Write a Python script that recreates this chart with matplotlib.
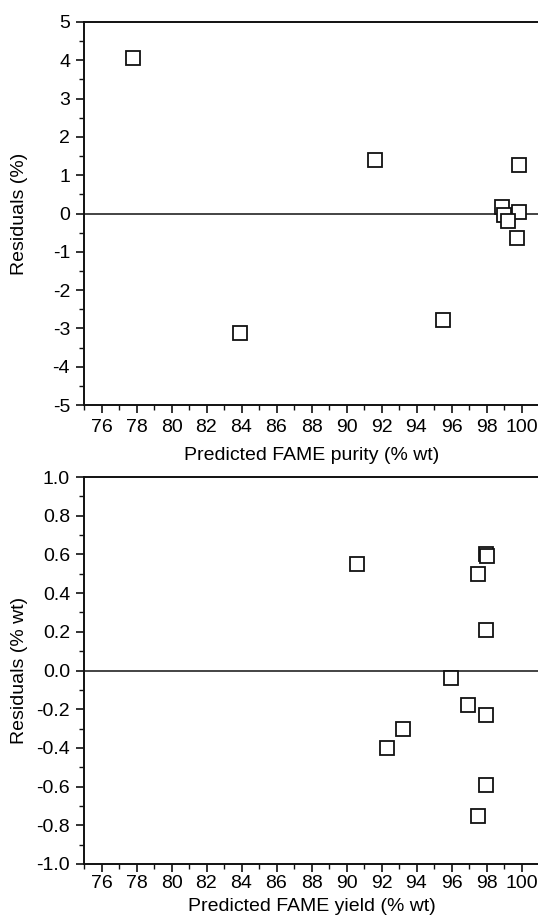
import matplotlib
matplotlib.use("Agg")
import matplotlib.pyplot as plt
from matplotlib.ticker import MultipleLocator, FormatStrFormatter

# Top panel: predicted FAME purity vs residuals
purity_pred = [77.8, 83.9, 91.6, 95.5, 99.85, 98.9, 99.85, 99.0, 99.2, 99.75]
purity_resid = [4.07, -3.11, 1.39, -2.77, 1.27, 0.18, 0.03, -0.05, -0.2, -0.64]

# Bottom panel: predicted FAME yield vs residuals
yield_pred = [90.6, 92.3, 93.2, 97.95, 98.05, 97.5, 97.95, 95.95, 96.95, 97.95, 97.95, 97.5]
yield_resid = [0.55, -0.40, -0.30, 0.60, 0.59, 0.50, 0.21, -0.04, -0.18, -0.23, -0.59, -0.75]

x_ticks = list(range(76, 101, 2))

plt.rcParams['font.family'] = ['Liberation Sans', 'DejaVu Sans']
plt.rcParams['axes.unicode_minus'] = False

W, H = 538, 919
fig = plt.figure(figsize=(W / 100, H / 100), dpi=100)

ax1 = fig.add_axes([84 / W, 1 - 405 / H, 455 / W, (405 - 22) / H])
ax2 = fig.add_axes([84 / W, 1 - 864 / H, 455 / W, (864 - 477) / H])


def style(ax, pad):
    ax.set_xlim(75, 101)
    ax.set_xticks(x_ticks)
    ax.xaxis.set_minor_locator(MultipleLocator(1))
    ax.tick_params(which='major', direction='out', length=6, width=1.2,
                   labelsize=14, pad=4, color='#111111')
    ax.tick_params(axis='x', which='major', pad=pad)
    ax.tick_params(which='minor', direction='out', length=3.5, width=1.0,
                   color='#111111')
    ax.spines['right'].set_visible(False)
    for s in ['left', 'bottom', 'top']:
        ax.spines[s].set_linewidth(1.4)
        ax.spines[s].set_color('#111111')
    ax.axhline(0, color='#111111', lw=1.1, zorder=1)


ax1.plot(purity_pred, purity_resid, ls='none', marker='s', ms=10.3,
         mfc='white', mec='#111111', mew=1.3, zorder=3)
style(ax1, 4)
ax1.set_ylim(-5, 5)
ax1.yaxis.set_major_locator(MultipleLocator(1))
ax1.yaxis.set_minor_locator(MultipleLocator(0.5))
ax1.set_xlabel('Predicted FAME purity (% wt)', fontsize=14, labelpad=8)
ax1.set_ylabel('Residuals (%)', fontsize=14, labelpad=18)

ax2.plot(yield_pred, yield_resid, ls='none', marker='s', ms=10.3,
         mfc='white', mec='#111111', mew=1.3, zorder=3)
style(ax2, 2)
ax2.set_ylim(-1.0, 1.0)
ax2.yaxis.set_major_locator(MultipleLocator(0.2))
ax2.yaxis.set_minor_locator(MultipleLocator(0.1))
ax2.yaxis.set_major_formatter(FormatStrFormatter('%.1f'))
ax2.set_xlabel('Predicted FAME yield (% wt)', fontsize=14, labelpad=4)
ax2.set_ylabel('Residuals (% wt)', fontsize=14, labelpad=6)

fig.savefig('out.png', dpi=100)
